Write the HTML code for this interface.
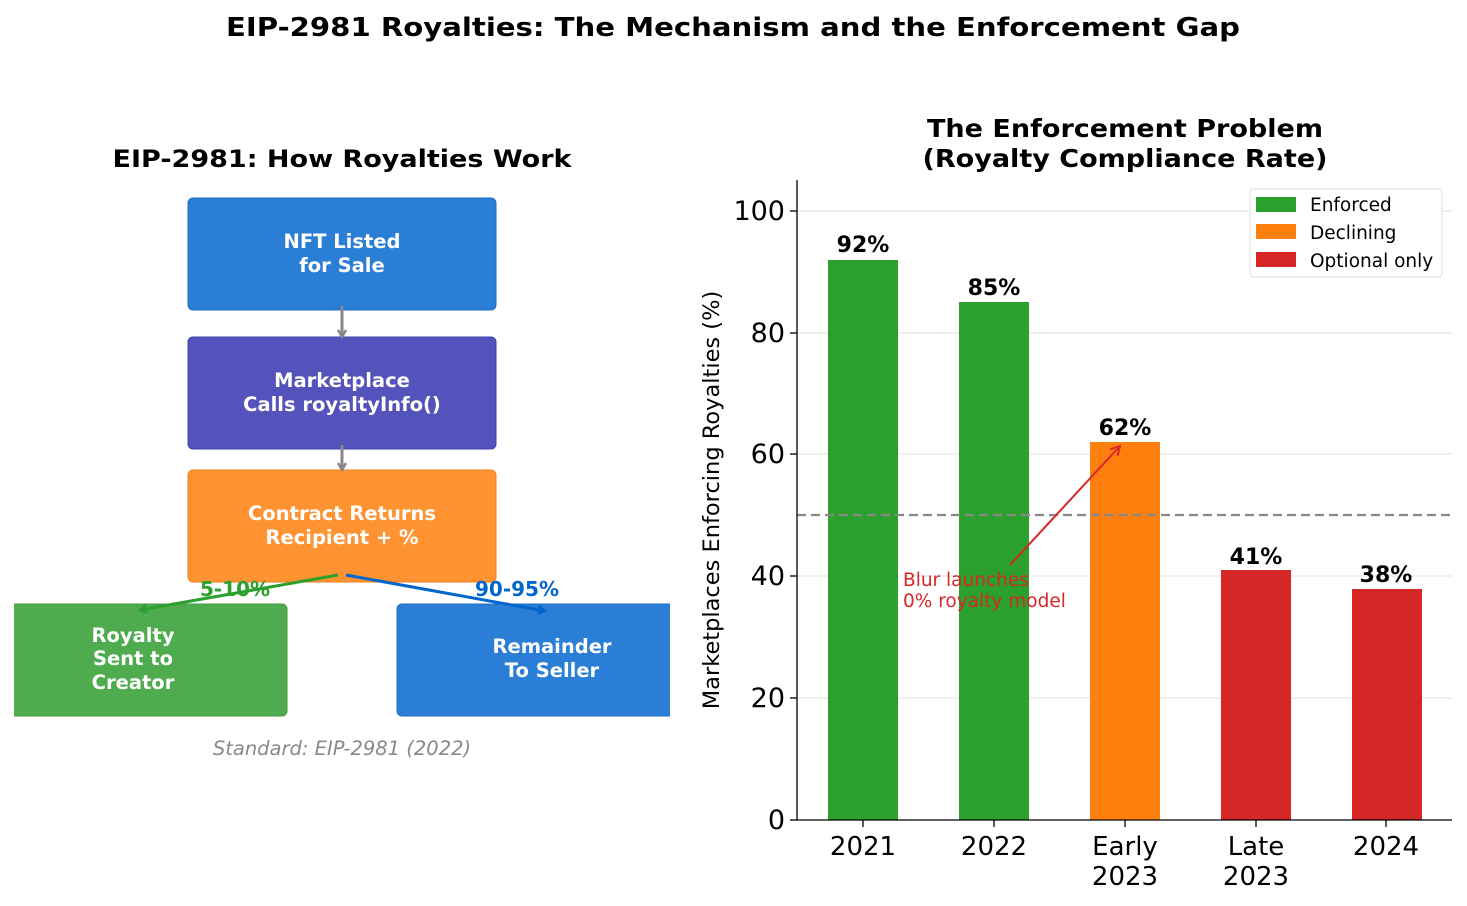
<!DOCTYPE html>
<html><head><meta charset="utf-8"><style>body{margin:0;background:#fff}svg{display:block}text{font-family:"DejaVu Sans","Liberation Sans",sans-serif}</style></head><body>
<svg width="1467" height="906" viewBox="0 0 1467 906" xmlns="http://www.w3.org/2000/svg">
<defs>
<marker id="ag" markerWidth="10" markerHeight="10" refX="8" refY="5" orient="auto" markerUnits="userSpaceOnUse"><path d="M1,1 L8,5 L1,9" fill="none" stroke="#2ca02c" stroke-width="2.5"/></marker>
<marker id="ab" markerWidth="10" markerHeight="10" refX="8" refY="5" orient="auto" markerUnits="userSpaceOnUse"><path d="M1,1 L8,5 L1,9" fill="none" stroke="#0066cc" stroke-width="2.5"/></marker>
<marker id="agr" markerWidth="10" markerHeight="10" refX="8" refY="5" orient="auto" markerUnits="userSpaceOnUse"><path d="M1,1 L8,5 L1,9" fill="none" stroke="#888" stroke-width="2.5"/></marker>
<marker id="ar" markerWidth="12" markerHeight="12" refX="10" refY="6" orient="auto" markerUnits="userSpaceOnUse"><path d="M1,1 L10,6 L1,11" fill="none" stroke="#d62728" stroke-width="2"/></marker>
<clipPath id="lc"><rect x="14" y="100" width="656" height="700"/></clipPath>
</defs>
<text x="733" y="36" font-size="26" font-weight="bold" text-anchor="middle" textLength="1014" lengthAdjust="spacingAndGlyphs">EIP-2981 Royalties: The Mechanism and the Enforcement Gap</text>
<text x="342" y="167" font-size="24" font-weight="bold" text-anchor="middle" textLength="459" lengthAdjust="spacingAndGlyphs">EIP-2981: How Royalties Work</text>
<g clip-path="url(#lc)">
<rect x="188" y="198" width="308" height="112" rx="5" fill="#1f77d4" fill-opacity="0.95" stroke="#1f6fc4"/>
<rect x="188" y="337" width="308" height="112" rx="5" fill="#4b4ab8" fill-opacity="0.95" stroke="#4040a8"/>
<rect x="188" y="470" width="308" height="112" rx="5" fill="#ff8c26" fill-opacity="0.95" stroke="#f08020"/>
<rect x="5" y="604" width="282" height="112" rx="5" fill="#45a845" fill-opacity="0.95" stroke="#3c9c3c"/>
<rect x="397" y="604" width="290" height="112" rx="5" fill="#1f77d4" fill-opacity="0.95" stroke="#1f6fc4"/>
</g>
<g fill="#fff" font-size="19.5" font-weight="bold" text-anchor="middle">
<text x="342" y="248">NFT Listed</text><text x="342" y="272">for Sale</text>
<text x="342" y="387">Marketplace</text><text x="342" y="411">Calls royaltyInfo()</text>
<text x="342" y="520">Contract Returns</text><text x="342" y="544">Recipient + %</text>
<text x="133" y="642">Royalty</text><text x="133" y="665">Sent to</text><text x="133" y="689">Creator</text>
<text x="552" y="653">Remainder</text><text x="552" y="677">To Seller</text>
</g>
<line x1="342" y1="306" x2="342" y2="337" stroke="#888" stroke-width="3" marker-end="url(#agr)"/>
<line x1="342" y1="445" x2="342" y2="470" stroke="#888" stroke-width="3" marker-end="url(#agr)"/>
<text x="235" y="596" font-size="20" font-weight="bold" fill="#2ca02c" text-anchor="middle">5-10%</text>
<text x="517" y="596" font-size="20" font-weight="bold" fill="#0066cc" text-anchor="middle">90-95%</text>
<line x1="338" y1="575" x2="140" y2="610" stroke="#2ca02c" stroke-width="3" marker-end="url(#ag)"/>
<line x1="346" y1="575" x2="545" y2="611" stroke="#0066cc" stroke-width="3" marker-end="url(#ab)"/>
<text x="342" y="755" font-size="19.5" font-style="italic" fill="#888" text-anchor="middle">Standard: EIP-2981 (2022)</text>

<text x="1125" y="137" font-size="25" font-weight="bold" text-anchor="middle" textLength="396" lengthAdjust="spacingAndGlyphs">The Enforcement Problem</text>
<text x="1125" y="167" font-size="25" font-weight="bold" text-anchor="middle" textLength="405" lengthAdjust="spacingAndGlyphs">(Royalty Compliance Rate)</text>
<g stroke="#e6e6e6" stroke-width="1.2">
<line x1="797" x2="1452" y1="698" y2="698"/><line x1="797" x2="1452" y1="576" y2="576"/><line x1="797" x2="1452" y1="454" y2="454"/><line x1="797" x2="1452" y1="333" y2="333"/><line x1="797" x2="1452" y1="211" y2="211"/>
</g>
<rect x="828" y="260" width="70" height="560" fill="#2ca02c"/>
<rect x="959" y="302" width="70" height="518" fill="#2ca02c"/>
<rect x="1090" y="442" width="70" height="378" fill="#ff7f0e"/>
<rect x="1221" y="570" width="70" height="250" fill="#d62728"/>
<rect x="1352" y="589" width="70" height="231" fill="#d62728"/>
<line x1="797" x2="1452" y1="515" y2="515" stroke="#888" stroke-width="2.2" stroke-dasharray="9,5"/>
<g font-size="22" font-weight="bold" text-anchor="middle">
<text x="863" y="252">92%</text><text x="994" y="295">85%</text><text x="1125" y="435">62%</text><text x="1256" y="564">41%</text><text x="1386" y="582">38%</text>
</g>
<line x1="1010" y1="565" x2="1120" y2="446" stroke="#d62728" stroke-width="2" marker-end="url(#ar)"/>
<text x="903" y="586" font-size="18.5" fill="#d62728">Blur launches</text>
<text x="903" y="607" font-size="18.5" fill="#d62728">0% royalty model</text>
<line x1="797" y1="180" x2="797" y2="820" stroke="#000" stroke-width="1.3"/>
<line x1="797" y1="820" x2="1452" y1="820" y2="820" stroke="#000" stroke-width="1.3"/>
<g stroke="#000" stroke-width="1.3">
<line x1="790" x2="797" y1="820" y2="820"/><line x1="790" x2="797" y1="698" y2="698"/><line x1="790" x2="797" y1="576" y2="576"/><line x1="790" x2="797" y1="454" y2="454"/><line x1="790" x2="797" y1="333" y2="333"/><line x1="790" x2="797" y1="211" y2="211"/>
<line x1="863" x2="863" y1="820" y2="827"/><line x1="994" x2="994" y1="820" y2="827"/><line x1="1125" x2="1125" y1="820" y2="827"/><line x1="1256" x2="1256" y1="820" y2="827"/><line x1="1386" x2="1386" y1="820" y2="827"/>
</g>
<g font-size="27" text-anchor="end">
<text x="785" y="829">0</text><text x="785" y="707">20</text><text x="785" y="585">40</text><text x="785" y="463">60</text><text x="785" y="342">80</text><text x="785" y="220">100</text>
</g>
<g font-size="26" text-anchor="middle">
<text x="863" y="855">2021</text><text x="994" y="855">2022</text><text x="1125" y="855">Early</text><text x="1125" y="885">2023</text><text x="1256" y="855">Late</text><text x="1256" y="885">2023</text><text x="1386" y="855">2024</text>
</g>
<text transform="translate(719,500) rotate(-90)" font-size="22.5" text-anchor="middle">Marketplaces Enforcing Royalties (%)</text>
<rect x="1250" y="189" width="192" height="88" rx="3" fill="#fff" stroke="#ddd"/>
<rect x="1256" y="197" width="40" height="15" fill="#2ca02c"/><text x="1310" y="211" font-size="18.5">Enforced</text>
<rect x="1256" y="224" width="40" height="15" fill="#ff7f0e"/><text x="1310" y="239" font-size="18.5">Declining</text>
<rect x="1256" y="252" width="40" height="15" fill="#d62728"/><text x="1310" y="267" font-size="18.5">Optional only</text>
</svg>
</body></html>
